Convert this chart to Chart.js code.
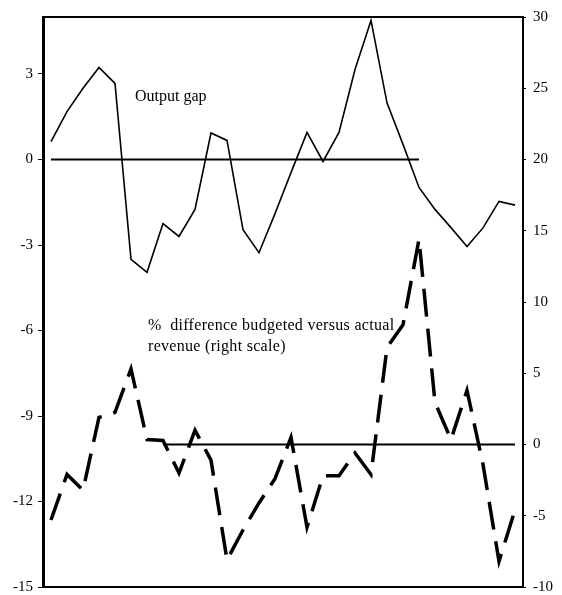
<!DOCTYPE html>
<html>
<head>
<meta charset="utf-8">
<script src="https://cdn.jsdelivr.net/npm/chart.js@4.4.0/dist/chart.umd.min.js"></script>
<style>
  body { margin: 0; background: #fff; overflow: hidden; }
  #wrap { width: 562px; height: 603px; }
</style>
</head>
<body>
<div id="wrap"><canvas id="gapChart"></canvas></div>
<script>
// one entry per year, 30 years
const periods = Array.from({ length: 30 }, (_, i) => String(i + 1));

// output gap, left scale
const outputGap = [0.63, 1.68, 2.5, 3.23, 2.67, -3.5, -3.96, -2.25, -2.7, -1.75,
  0.93, 0.67, -2.46, -3.27, -1.9, -0.46, 0.95, -0.07, 0.95, 3.16,
  4.88, 1.99, 0.53, -0.98, -1.75, -2.39, -3.05, -2.4, -1.47, -1.6];

// % difference budgeted vs actual revenue, right scale
const revenueDiff = [-5.3, -2.1, -3.2, 1.9, 2.25, 5.3, 0.35, 0.28, -2.0, 1.0,
  -1.1, -8.1, -6.0, -4.1, -2.4, 0.5, -5.8, -2.2, -2.2, -0.6,
  -2.1, 6.8, 8.4, 14.4, 2.95, 0.35, 3.8, -1.4, -8.2, -4.6];

const leftTicks = [-15, -12, -9, -6, -3, 0, 3];
const rightTicks = [-10, -5, 0, 5, 10, 15, 20, 25, 30];

// zero reference lines only run over part of the period
const zeroLeft = periods.map((p, i) => (i <= 23 ? 0 : null));
const zeroRight = periods.map((p, i) => (i >= 7 ? 0 : null));

const serif = "'Liberation Serif', 'Times New Roman', serif";

const boxAndNotes = {
  id: "boxAndNotes",
  afterDraw(chart) {
    const { ctx, chartArea } = chart;
    ctx.save();
    ctx.strokeStyle = "#000";
    ctx.lineWidth = 2;
    ctx.beginPath();
    ctx.moveTo(chartArea.left, chartArea.top);
    ctx.lineTo(chartArea.right, chartArea.top);
    ctx.moveTo(chartArea.left, chartArea.bottom);
    ctx.lineTo(chartArea.right, chartArea.bottom);
    ctx.stroke();

    ctx.fillStyle = "#000";
    ctx.font = "16px " + serif;
    ctx.textBaseline = "middle";
    ctx.fillText("Output gap", 135, 97);
    ctx.letterSpacing = "0.3px";
    ctx.fillText("%  difference budgeted versus actual", 148, 326);
    ctx.fillText("revenue (right scale)", 148, 347);
    ctx.restore();
  }
};

new Chart("gapChart", {
  type: "line",
  data: {
    labels: periods,
    datasets: [
      {
        data: outputGap,
        yAxisID: "y",
        borderColor: "#000",
        borderWidth: 1.6,
        pointRadius: 0,
        tension: 0
      },
      {
        data: zeroLeft,
        yAxisID: "y",
        borderColor: "#000",
        borderWidth: 2,
        pointRadius: 0
      },
      {
        data: revenueDiff,
        yAxisID: "y1",
        borderColor: "#000",
        borderWidth: 3.5,
        borderDash: [28, 12],
        pointRadius: 0,
        tension: 0
      },
      {
        data: zeroRight,
        yAxisID: "y1",
        borderColor: "#000",
        borderWidth: 2,
        pointRadius: 0
      }
    ]
  },
  options: {
    responsive: true,
    maintainAspectRatio: false,
    animation: false,
    layout: { padding: { top: 17, bottom: 1, left: 0, right: 0 } },
    plugins: {
      legend: { display: false },
      tooltip: { enabled: false }
    },
    scales: {
      x: {
        type: "category",
        offset: true,
        display: false
      },
      y: {
        position: "left",
        min: -15,
        max: 5,
        afterBuildTicks: (scale) => { scale.ticks = leftTicks.map((v) => ({ value: v })); },
        afterFit: (scale) => { scale.width = 43; },
        grid: { drawOnChartArea: false, drawTicks: true, tickLength: 5, color: "#000" },
        border: { display: true, color: "#000", width: 3 },
        ticks: { color: "#000", padding: 5, font: { family: serif, size: 15 } }
      },
      y1: {
        position: "right",
        min: -10,
        max: 30,
        afterBuildTicks: (scale) => { scale.ticks = rightTicks.map((v) => ({ value: v })); },
        afterFit: (scale) => { scale.width = 39; },
        grid: { drawOnChartArea: false, drawTicks: true, tickLength: 3, color: "#000" },
        border: { display: true, color: "#000", width: 2 },
        ticks: { color: "#000", padding: 7, font: { family: serif, size: 15 } }
      }
    }
  },
  plugins: [boxAndNotes]
});
</script>
</body>
</html>
